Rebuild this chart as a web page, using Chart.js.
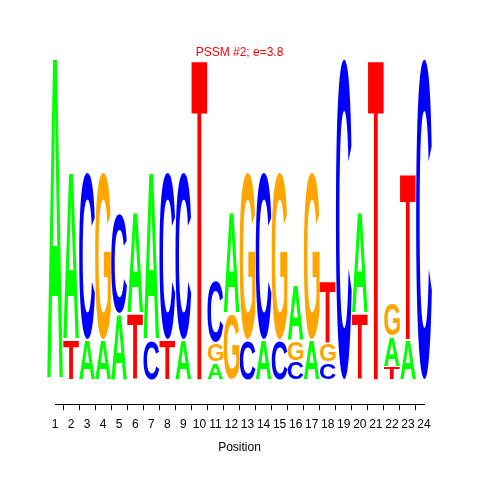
<!DOCTYPE html>
<html>
<head>
<meta charset="utf-8">
<script src="https://cdn.jsdelivr.net/npm/chart.js@4"></script>
<style>
  html, body { margin: 0; padding: 0; background: #fff; }
  .box { width: 480px; height: 480px; }
</style>
</head>
<body>
<div class="box"><canvas class="canvas"></canvas></div>
<script>
// positions of the motif
const positions = [1,2,3,4,5,6,7,8,9,10,11,12,13,14,15,16,17,18,19,20,21,22,23,24];
const letters = ['A','C','G','T'];
// information (bits) carried by each letter at each position
const heightA = [2.0,1.04,0.25,0.25,0.41,0.63,1.04,0,0.25,0,0.11,0.63,0,0.25,0,0.35,0.25,0,0,0.63,0,0.19,0.25,0];
const heightC = [0,0,1.04,0,0.63,0,0.25,1.04,1.04,0,0.39,0,0.25,1.04,0.25,0.115,0,0.11,2.0,0,0,0,0,2.0];
const heightG = [0,0,0,1.04,0,0,0,0,0,0,0.12,0.41,1.04,0,1.04,0.125,1.04,0.12,0,0,0,0.21,0,0];
const heightT = [0,0.25,0,0,0,0.41,0,0.25,0,2.0,0,0,0,0,0,0,0,0.39,0,0.41,2.0,0.08,1.04,0];
const colors = { A: '#00ff00', C: '#0000ff', G: '#ffa500', T: '#ff0000' };

Chart.defaults.font.family = '"Liberation Sans", Arial, sans-serif';

// stack letters per position: smallest at the bottom
const heights = { A: heightA, C: heightC, G: heightG, T: heightT };
const ranges = { A: [], C: [], G: [], T: [] };
positions.forEach((p, i) => {
  let order = letters.filter(l => heights[l][i] > 0).sort((a, b) => heights[a][i] - heights[b][i]);
  let lo = 0;
  letters.forEach(l => ranges[l][i] = null);
  order.forEach(l => {
    let hi = lo + heights[l][i];
    ranges[l][i] = { x: p, y: [lo, hi] };
    lo = hi;
  });
});

const datasets = letters.map(l => ({
  label: l,
  data: ranges[l].filter(d => d !== null),
  backgroundColor: 'rgba(0,0,0,0)',
  borderWidth: 0,
  categoryPercentage: 1,
  barPercentage: 1,
  grouped: false
}));

function drawLetter(ctx, ch, x0, y0, w, h, color) {
  ctx.font = 'bold 200px "Liberation Sans"';
  const m = ctx.measureText(ch);
  const gw = m.actualBoundingBoxLeft + m.actualBoundingBoxRight;
  const gh = m.actualBoundingBoxAscent + m.actualBoundingBoxDescent;
  ctx.save();
  ctx.translate(x0, y0);
  ctx.scale(w / gw, h / gh);
  ctx.fillStyle = color;
  ctx.textBaseline = 'alphabetic';
  ctx.textAlign = 'left';
  ctx.fillText(ch, m.actualBoundingBoxLeft, m.actualBoundingBoxAscent);
  ctx.restore();
}

const logoLetters = {
  id: 'logoLetters',
  afterDatasetsDraw(chart) {
    const ctx = chart.ctx;
    chart.data.datasets.forEach((ds, di) => {
      const meta = chart.getDatasetMeta(di);
      meta.data.forEach(el => {
        const top = Math.min(el.y, el.base);
        const bottom = Math.max(el.y, el.base);
        const w = el.width * 0.98;
        if (bottom - top < 1) return;
        drawLetter(ctx, ds.label, el.x - w / 2, top + 1, w, bottom - top - 2, colors[ds.label]);
      });
    });
  }
};

const config = {
  type: 'bar',
  data: { datasets: datasets },
  options: {
    responsive: true,
    maintainAspectRatio: false,
    animation: false,
    layout: { padding: { top: 48, left: 55, right: 56, bottom: 25 } },
    plugins: {
      legend: { display: false },
      tooltip: { enabled: false },
      title: {
        display: true,
        text: 'PSSM #2; e=3.8',
        color: '#ff0000',
        font: { size: 12, weight: 'normal', lineHeight: 0.84 },
        padding: 0
      }
    },
    scales: {
      x: {
        type: 'linear',
        min: 1,
        max: 24,
        offset: false,
        ticks: { stepSize: 1, color: '#000', font: { size: 12 }, padding: 7, maxRotation: 0, autoSkip: false },
        grid: { drawOnChartArea: false, drawTicks: true, tickLength: 6, color: '#000' },
        border: { display: true, color: '#000', width: 1 },
        title: { display: true, text: 'Position', color: '#000', font: { size: 12 }, padding: { top: 2, bottom: 0 } }
      },
      y: {
        display: false,
        min: -0.149,
        max: 2
      }
    }
  },
  plugins: [logoLetters]
};

let canvas = document.querySelector('.canvas');
new Chart(canvas, config);
</script>
</body>
</html>
